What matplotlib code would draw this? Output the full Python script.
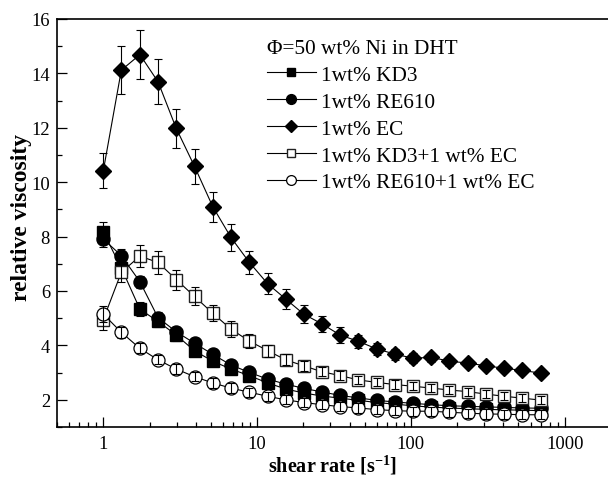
import matplotlib
matplotlib.use("Agg")
import matplotlib.pyplot as plt
from matplotlib.lines import Line2D
from matplotlib.ticker import FixedLocator, LogLocator, FuncFormatter, NullFormatter, MultipleLocator

plt.rcParams['font.family'] = ['Liberation Serif', 'DejaVu Serif']
plt.rcParams['mathtext.fontset'] = 'custom'
plt.rcParams['mathtext.rm'] = 'Liberation Serif'
plt.rcParams['mathtext.bf'] = 'Liberation Serif:bold'
plt.rcParams['mathtext.default'] = 'bf'

# ---------------- data ----------------
shear_rate = [1.0, 1.31, 1.73, 2.27, 2.98, 3.92, 5.15, 6.76, 8.88, 11.7, 15.3, 20.1,
              26.4, 34.7, 45.6, 59.9, 78.7, 103, 136, 178, 234, 308, 404, 531, 697]

kd3 = [8.17, 6.85, 5.33, 4.88, 4.38, 3.80, 3.42, 3.13, 2.89, 2.62, 2.40, 2.25,
       2.14, 2.06, 1.98, 1.90, 1.84, 1.78, 1.73, 1.70, 1.67, 1.65, 1.63, 1.62, 1.60]
kd3_err = [0.38, 0.3, 0.25, 0.22, 0.2, 0.18, 0.16, 0.15, 0.14, 0.13, 0.12, 0.12,
           0.11, 0.11, 0.1, 0.1, 0.1, 0.1, 0.1, 0.1, 0.1, 0.1, 0.1, 0.1, 0.1]

re610 = [7.91, 7.30, 6.34, 5.02, 4.50, 4.08, 3.67, 3.28, 3.01, 2.76, 2.58, 2.42,
         2.29, 2.16, 2.07, 1.98, 1.92, 1.87, 1.82, 1.78, 1.76, 1.74, 1.72, 1.70, 1.69]
re610_err = [0.3, 0.25, 0.22, 0.2, 0.18, 0.16, 0.15, 0.14, 0.13, 0.12, 0.12, 0.11,
             0.11, 0.1, 0.1, 0.1, 0.1, 0.1, 0.1, 0.1, 0.1, 0.1, 0.1, 0.1, 0.1]

ec = [10.42, 14.12, 14.69, 13.69, 11.98, 10.58, 9.10, 7.97, 7.06, 6.27, 5.71, 5.15,
      4.79, 4.38, 4.15, 3.87, 3.68, 3.53, 3.56, 3.42, 3.35, 3.25, 3.16, 3.08, 2.98]
ec_err = [0.65, 0.87, 0.9, 0.83, 0.72, 0.64, 0.55, 0.5, 0.42, 0.38, 0.36, 0.32,
          0.3, 0.28, 0.25, 0.22, 0.2, 0.18, 0.17, 0.16, 0.15, 0.15, 0.14, 0.14, 0.13]

kd3_ec = [4.95, 6.69, 7.28, 7.05, 6.42, 5.80, 5.18, 4.60, 4.16, 3.81, 3.47, 3.25,
          3.03, 2.89, 2.73, 2.64, 2.56, 2.50, 2.43, 2.36, 2.30, 2.21, 2.13, 2.06, 1.99]
kd3_ec_err = [0.4, 0.37, 0.4, 0.42, 0.37, 0.33, 0.3, 0.28, 0.25, 0.22, 0.2, 0.18,
              0.17, 0.16, 0.15, 0.15, 0.15, 0.15, 0.15, 0.15, 0.15, 0.15, 0.15, 0.15, 0.15]

re610_ec = [5.15, 4.48, 3.89, 3.47, 3.13, 2.85, 2.62, 2.43, 2.28, 2.13, 2.00, 1.90,
            1.82, 1.75, 1.70, 1.64, 1.60, 1.58, 1.58, 1.54, 1.51, 1.48, 1.47, 1.45, 1.45]
re610_ec_err = [0.3, 0.2, 0.18, 0.17, 0.17, 0.17, 0.17, 0.17, 0.17, 0.17, 0.17, 0.17,
                0.17, 0.17, 0.17, 0.17, 0.17, 0.17, 0.17, 0.17, 0.17, 0.17, 0.17, 0.17, 0.17]

labels = ['1wt% KD3', '1wt% RE610', '1wt% EC', '1wt% KD3+1 wt% EC', '1wt% RE610+1 wt% EC']
legend_title = 'Φ=50 wt% Ni in DHT'
x_ticks = [1, 10, 100, 1000]
y_ticks = [2, 4, 6, 8, 10, 12, 14, 16]

# ---------------- figure ----------------
fig = plt.figure(figsize=(6.08, 4.81), dpi=100)
ax = fig.add_axes([57/608, 1-428/481, (611-57)/608, (428-20)/481])

series = [
    (ec, ec_err, dict(marker='D', markersize=8.2, mfc='black', mec='black')),
    (kd3, kd3_err, dict(marker='s', markersize=8.3, mfc='black', mec='black')),
    (re610, re610_err, dict(marker='o', markersize=9.4, mfc='black', mec='black')),
    (kd3_ec, kd3_ec_err, dict(marker='s', markersize=8.3, mfc='white', mec='#222222', mew=1.0)),
    (re610_ec, re610_ec_err, dict(marker='o', markersize=9.4, mfc='white', mec='black', mew=0.9)),
]
z = 2
for vals, err, style in series:
    ax.plot(shear_rate, vals, color='black', lw=0.8, zorder=z, **style)
    ax.errorbar(shear_rate, vals, yerr=err, fmt='none', ecolor='black', elinewidth=0.8,
                capsize=3.0, capthick=0.8, zorder=z + 0.5)
    z += 1

ax.set_xscale('log')
ax.set_xlim(0.5, 2000)
ax.set_ylim(1, 16)
ax.xaxis.set_major_locator(FixedLocator(x_ticks))
ax.xaxis.set_major_formatter(FuncFormatter(lambda v, p: f'{v:g}'))
ax.xaxis.set_minor_locator(LogLocator(base=10, subs=range(2, 10), numticks=20))
ax.xaxis.set_minor_formatter(NullFormatter())
ax.yaxis.set_major_locator(FixedLocator(y_ticks))
ax.yaxis.set_minor_locator(MultipleLocator(1))

ax.tick_params(which='both', direction='in', top=False, right=False, labelsize=13.3, width=0.9)
ax.tick_params(axis='x', which='major', length=7, pad=6)
ax.tick_params(axis='y', which='major', length=7, pad=5)
ax.tick_params(which='minor', length=3.5)
for s in ax.spines.values():
    s.set_linewidth(1.2)

ax.set_xlabel(r'shear rate [s$^{-1}$]', fontsize=14.5, fontweight='bold')
ax.xaxis.set_label_coords(0.498, -0.064)
ax.set_ylabel('relative viscosity', fontsize=17, fontweight='bold')
ax.yaxis.set_label_coords(-0.046, 0.515)

# legend (proxy handles without error bars)
handles = []
for vals, err, style in [series[1], series[2], series[0], series[3], series[4]]:
    st = dict(style)
    st['markersize'] = st['markersize'] * 0.75
    handles.append(Line2D([], [], color='black', lw=0.8, **st))
leg = ax.legend(handles, labels, title=legend_title, loc='upper left',
                bbox_to_anchor=((267-57)/554, 1-(40-20)/408), frameon=False,
                fontsize=15.3, title_fontsize=15.3, handlelength=2.3, handletextpad=0.25,
                labelspacing=0.33, borderpad=0, borderaxespad=0, alignment='left')

fig.savefig('out.png', dpi=100)
